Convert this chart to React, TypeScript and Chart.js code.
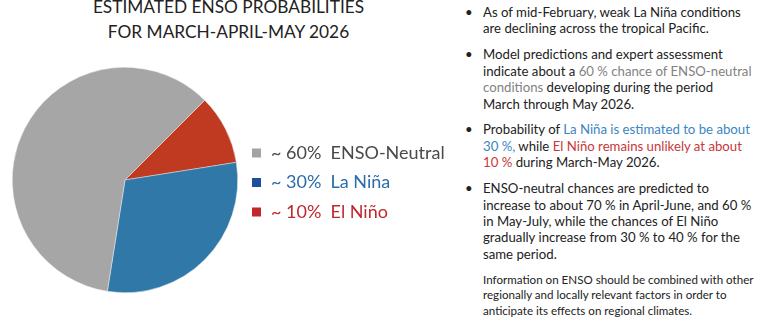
import React, { useEffect, useRef } from "react";
import { Chart, registerables } from "chart.js";
Chart.register(...registerables);

const categories = ["El Niño", "La Niña", "ENSO-Neutral"];
const probabilities = [10, 30, 60];
const legendLabels = ["~ 10%  El Niño", "~ 30%  La Niña", "~ 60%  ENSO-Neutral"];
const sliceColors = ["#bf3a20", "#2f78a8", "#a6a6a6"];
const legendBoxColors = ["#c1272d", "#1e4f9c", "#a3a3a3"];
const legendTextColors = ["#c0282d", "#2b6caa", "#4a4a4a"];

const FONT = "Lato, 'Open Sans', sans-serif";

const legendPlugin = {
  id: "customLegend",
  afterDraw(chart: any) {
    const ctx = chart.ctx;
    const n = chart.data.labels.length;
    ctx.save();
    ctx.font = `18px ${FONT}`;
    ctx.textBaseline = "middle";
    for (let k = 0; k < n; k++) {
      const i = n - 1 - k;
      const y = 153 + k * 29.5;
      ctx.fillStyle = legendBoxColors[i];
      ctx.fillRect(252, y - 4.5, 9, 9);
      ctx.fillStyle = legendTextColors[i];
      ctx.fillText(legendLabels[i], 271, y);
    }
    ctx.restore();
  },
};

function PieChart() {
  const ref = useRef<HTMLCanvasElement | null>(null);
  useEffect(() => {
    if (!ref.current) return;
    const chart = new Chart(ref.current, {
      type: "pie",
      data: {
        labels: categories,
        datasets: [
          {
            data: probabilities,
            backgroundColor: sliceColors,
            borderColor: "rgba(235,235,235,0.8)",
            borderWidth: 0.6,
          },
        ],
      },
      options: {
        responsive: false,
        animation: false,
        rotation: 45,
        layout: { padding: { left: 12, right: 222, top: 67, bottom: 34 } },
        plugins: { legend: { display: false }, tooltip: { enabled: false } },
      },
      plugins: [legendPlugin],
    });
    return () => chart.destroy();
  }, []);
  return (
    <canvas
      ref={ref}
      width={460}
      height={327}
      style={{ position: "absolute", left: 0, top: 0, width: 460, height: 327 }}
    />
  );
}

const gray = "#828282";
const blue = "#3a86c0";
const red = "#c8383a";

const bulletStyle: React.CSSProperties = {
  position: "relative",
  marginBottom: 9.5,
};

function Bullet({ children }: { children: React.ReactNode }) {
  return (
    <div style={bulletStyle}>
      <span style={{ position: "absolute", left: -18, top: 0 }}>•</span>
      {children}
    </div>
  );
}

export default function App() {
  return (
    <div
      style={{
        position: "fixed",
        left: 0,
        top: 0,
        width: 768,
        height: 327,
        background: "#ffffff",
        overflow: "hidden",
        fontFamily: FONT,
      }}
    >
      <div
        style={{
          position: "absolute",
          left: 0,
          width: 457,
          top: -6,
          textAlign: "center",
          fontSize: 17.3,
          lineHeight: "25px",
          color: "#222",
          whiteSpace: "nowrap",
        }}
      >
        ESTIMATED ENSO PROBABILITIES
        <br />
        FOR MARCH-APRIL-MAY 2026
      </div>
      <PieChart />
      <div
        style={{
          position: "absolute",
          left: 483,
          top: 4,
          width: 285,
          fontSize: 13.2,
          lineHeight: "16.4px",
          color: "#222",
          whiteSpace: "nowrap",
        }}
      >
        <Bullet>
          As of mid-February, weak La Niña conditions
          <br />
          are declining across the tropical Pacific.
        </Bullet>
        <Bullet>
          Model predictions and expert assessment
          <br />
          indicate about a <span style={{ color: gray }}>60 % chance of ENSO-neutral</span>
          <br />
          <span style={{ color: gray }}>conditions</span> developing during the period
          <br />
          March through May 2026.
        </Bullet>
        <Bullet>
          Probability of <span style={{ color: blue }}>La Niña is estimated to be about</span>
          <br />
          <span style={{ color: blue }}>30 %,</span> while{" "}
          <span style={{ color: red }}>El Niño remains unlikely at about</span>
          <br />
          <span style={{ color: red }}>10 %</span> during March-May 2026.
        </Bullet>
        <Bullet>
          ENSO-neutral chances are predicted to
          <br />
          increase to about 70 % in April-June, and 60 %
          <br />
          in May-July, while the chances of El Niño
          <br />
          gradually increase from 30 % to 40 % for the
          <br />
          same period.
        </Bullet>
        <div style={{ fontSize: 11.6, lineHeight: "15.5px" }}>
          Information on ENSO should be combined with other
          <br />
          regionally and locally relevant factors in order to
          <br />
          anticipate its effects on regional climates.
        </div>
      </div>
    </div>
  );
}
